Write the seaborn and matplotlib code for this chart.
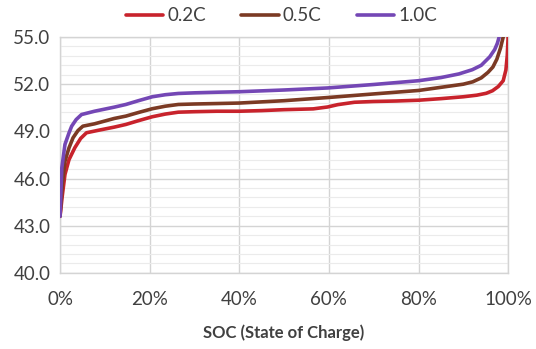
import numpy as np
import pandas as pd
import seaborn as sns
import matplotlib.pyplot as plt
from matplotlib.ticker import FixedLocator, FuncFormatter

# Values (SOC in %, voltage in V).
soc_02 = [0, 0.5, 1.1, 2, 3.3, 4.6, 5.9, 8.4, 12.1, 14.7, 17.5, 20.6, 23.5, 26.4,
          30, 35, 40, 45, 50, 56.5, 59.7, 62, 65.7, 70, 75, 80, 85, 90, 93, 95.1,
          96.5, 97.8, 98.9, 99.5, 99.8, 100]
volt_02 = [43.6, 44.9, 46.26, 47.2, 47.96, 48.55, 48.91, 49.06, 49.27, 49.44, 49.68,
           49.93, 50.1, 50.22, 50.25, 50.28, 50.28, 50.32, 50.38, 50.43, 50.55, 50.7,
           50.85, 50.9, 50.93, 50.98, 51.08, 51.2, 51.3, 51.42, 51.58, 51.85, 52.22,
           52.9, 53.8, 55.0]

soc_05 = [0, 0.5, 1.1, 2, 2.9, 4, 5.1, 7.7, 12.1, 14.7, 17.5, 20.6, 23.5, 26.4, 30,
          35.2, 40, 50, 59.7, 70, 80, 85, 90, 92.1, 94, 95.5, 96.6, 97.5, 98.3, 98.9]
volt_05 = [43.6, 45.6, 47.1, 47.95, 48.59, 49.05, 49.33, 49.48, 49.82, 49.97, 50.2,
           50.44, 50.6, 50.71, 50.74, 50.77, 50.8, 50.95, 51.15, 51.38, 51.6, 51.8,
           52.0, 52.15, 52.4, 52.75, 53.09, 53.6, 54.3, 55.0]

soc_10 = [0, 0.4, 1.1, 2, 2.6, 3.6, 4.8, 7.7, 12.1, 14.7, 17.5, 20.6, 23.5, 26.4, 30,
          35.2, 40, 50, 59.7, 70, 80, 85, 89, 92, 94, 95.9, 97, 97.6, 98]
volt_10 = [43.6, 46.68, 48.17, 48.9, 49.33, 49.75, 50.07, 50.28, 50.54, 50.71, 50.95,
           51.2, 51.33, 51.41, 51.45, 51.49, 51.52, 51.63, 51.76, 51.98, 52.22, 52.42,
           52.65, 52.92, 53.2, 53.74, 54.2, 54.6, 55.0]

rates = ["0.2C", "0.5C", "1.0C"]
colors = ["#c8232c", "#7b3a24", "#7447b5"]

y_ticks = [40, 43, 46, 49, 52, 55]
x_ticks = [0, 20, 40, 60, 80, 100]

df = pd.concat([
    pd.DataFrame({"soc": soc_02, "voltage": volt_02, "rate": "0.2C"}),
    pd.DataFrame({"soc": soc_05, "voltage": volt_05, "rate": "0.5C"}),
    pd.DataFrame({"soc": soc_10, "voltage": volt_10, "rate": "1.0C"}),
])

sns.set_theme(style="white")
plt.rcParams["font.family"] = ["Lato", "DejaVu Sans"]
text_color = "#404040"

fig = plt.figure(figsize=(5.36, 3.49), dpi=100)
ax = fig.add_axes([0.112, 0.218, 0.836, 0.676])

sns.lineplot(data=df, x="soc", y="voltage", hue="rate", hue_order=rates,
             palette=colors, linewidth=2.6, sort=False, estimator=None, ax=ax,
             zorder=3, legend=True)

ax.set_xlim(0, 100)
ax.set_ylim(40, 55)
ax.xaxis.set_major_locator(FixedLocator(x_ticks))
ax.yaxis.set_major_locator(FixedLocator(y_ticks))
ax.yaxis.set_minor_locator(FixedLocator(np.arange(40, 55.01, 0.6)))
ax.xaxis.set_major_formatter(FuncFormatter(lambda v, p: f"{v:.0f}%"))
ax.yaxis.set_major_formatter(FuncFormatter(lambda v, p: f"{v:.1f}"))

ax.grid(which="major", axis="both", color="#d4d4d4", linewidth=1.0)
ax.grid(which="minor", axis="y", color="#ebebeb", linewidth=0.8)
for s in ax.spines.values():
    s.set_color("#d4d4d4")
    s.set_linewidth(1.0)

ax.tick_params(axis="both", which="both", length=0, labelsize=13.5,
               labelcolor=text_color)
ax.tick_params(axis="x", pad=13)
ax.tick_params(axis="y", pad=7)

ax.set_ylabel("")
ax.set_xlabel("SOC (State of Charge)", fontsize=12, fontweight="bold",
              color=text_color, labelpad=12)

handles, labels = ax.get_legend_handles_labels()
ax.legend_.remove()
fig.legend(handles, labels, loc="center", bbox_to_anchor=(0.525, 0.955), ncol=3,
           frameon=False, fontsize=13.5, handlelength=2.0, handletextpad=0.2,
           columnspacing=1.9, labelcolor=text_color)

fig.savefig("out.png", dpi=100)
